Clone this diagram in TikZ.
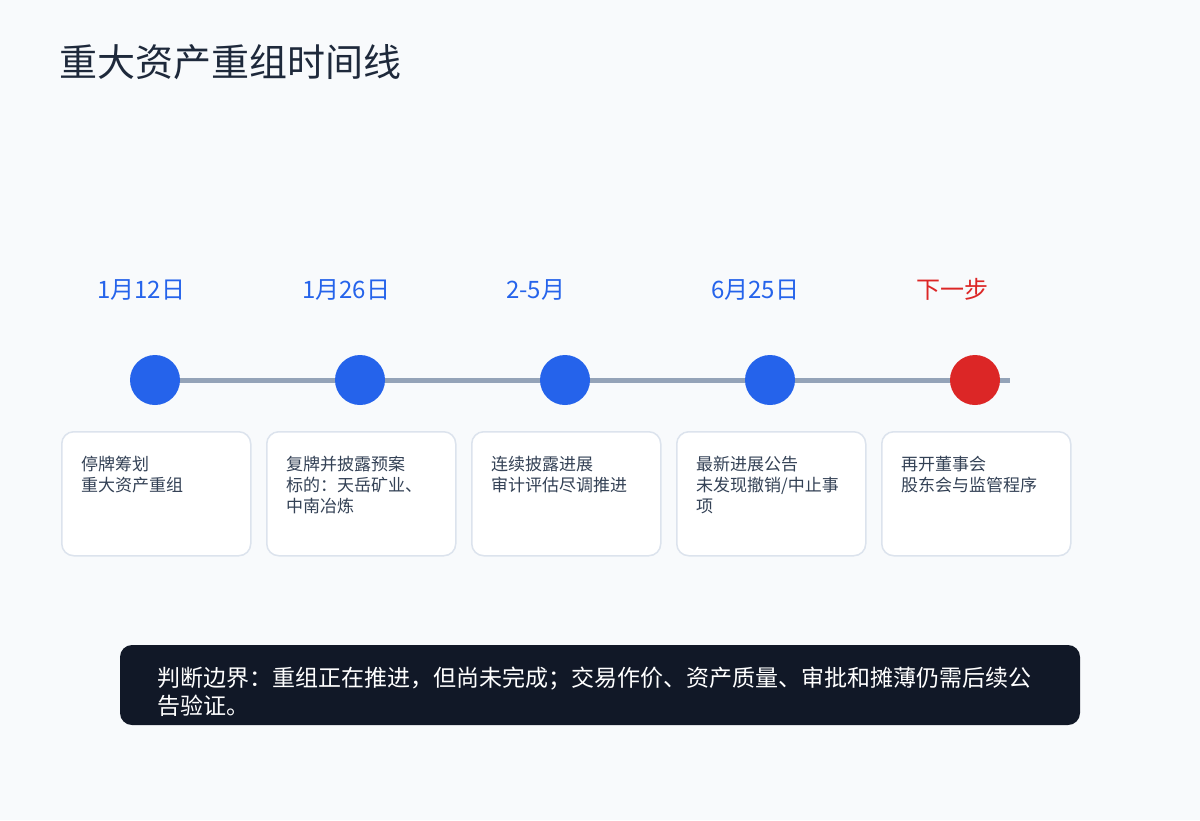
\documentclass[tikz,border=0pt]{standalone}
\usepackage{fontspec}
\setmainfont{Noto Sans CJK SC}
\definecolor{pagebg}{HTML}{F8FAFC}
\definecolor{titleink}{HTML}{1E293B}
\definecolor{railgray}{HTML}{94A3B8}
\definecolor{dotblue}{HTML}{2563EB}
\definecolor{dotred}{HTML}{DC2626}
\definecolor{cardline}{HTML}{DCE3ED}
\definecolor{cardink}{HTML}{334155}
\definecolor{notebg}{HTML}{111827}
\begin{document}
\begin{tikzpicture}[x=1pt,y=-1pt,
    dot/.style={circle,fill=#1,minimum size=50pt,inner sep=0pt},
    datelabel/.style={anchor=base west,inner sep=0pt,text=#1,font=\fontsize{24}{28}\selectfont},
    card/.style={draw=cardline,line width=1.5pt,fill=white,rounded corners=12pt,
                 minimum width=189pt,minimum height=124pt,anchor=north west,inner sep=0pt},
    cardtext/.style={anchor=north west,inner sep=0pt,align=left,text=cardink,
                     font=\fontsize{17}{21}\selectfont}]

    % Page and title
    \fill[pagebg] (0,0) rectangle (1200,820);
    \useasboundingbox (0,0) rectangle (1200,820);
    \node[anchor=base west,inner sep=0pt,text=titleink,font=\fontsize{38}{44}\selectfont]
        (title) at (59,76) {重大资产重组时间线};

    % Points on the timeline
    \coordinate (p1) at (155,380);
    \coordinate (p2) at (360,380);
    \coordinate (p3) at (565,380);
    \coordinate (p4) at (770,380);
    \coordinate (p5) at (975,380);
    \coordinate (railend) at (1010,380);

    % Rail behind the dots
    \draw[railgray,line width=5pt] (p1) -- (railend);

    % Dots
    \node[dot=dotblue] (d1) at (p1) {};
    \node[dot=dotblue] (d2) at (p2) {};
    \node[dot=dotblue] (d3) at (p3) {};
    \node[dot=dotblue] (d4) at (p4) {};
    \node[dot=dotred]  (d5) at (p5) {};

    % Dates above the dots
    \node[datelabel=dotblue] (t1) at (97,298) {1月12日};
    \node[datelabel=dotblue] (t2) at (302,298) {1月26日};
    \node[datelabel=dotblue] (t3) at (506,298) {2-5月};
    \node[datelabel=dotblue] (t4) at (711,298) {6月25日};
    \node[datelabel=dotred]  (t5) at (916,298) {下一步};

    % Cards below the dots
    \node[card] (c1) at (61,431) {};
    \node[card] (c2) at (266,431) {};
    \node[card] (c3) at (471,431) {};
    \node[card] (c4) at (676,431) {};
    \node[card] (c5) at (881,431) {};

    \node[cardtext] (e1) at (81,456) {停牌筹划\\重大资产重组};
    \node[cardtext] (e2) at (286,456) {复牌并披露预案\\标的：天岳矿业、\\中南冶炼};
    \node[cardtext] (e3) at (491,456) {连续披露进展\\审计评估尽调推进};
    \node[cardtext] (e4) at (696,456) {最新进展公告\\未发现撤销/中止事\\项};
    \node[cardtext] (e5) at (901,456) {再开董事会\\股东会与监管程序};

    % Closing note
    \fill[notebg,rounded corners=12pt] (120,645) rectangle (1080,725);
    \node[anchor=north west,inner sep=0pt,align=left,text=white,font=\fontsize{23}{28}\selectfont]
        (note) at (157,667) {判断边界：重组正在推进，但尚未完成；交易作价、资产质量、审批和摊薄仍需后续公\\告验证。};

\end{tikzpicture}
\end{document}
